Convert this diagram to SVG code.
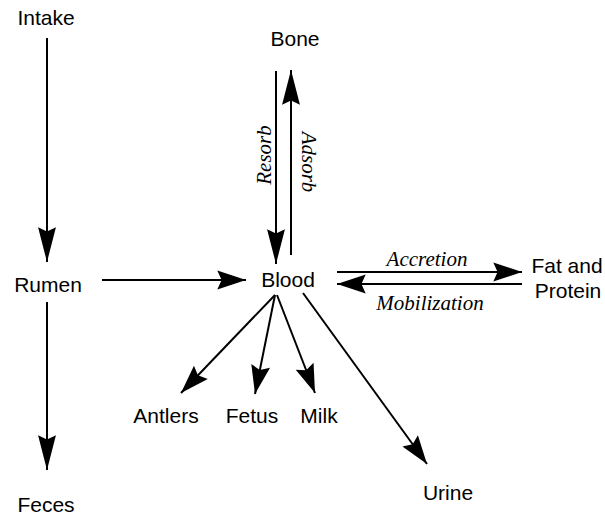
<svg xmlns="http://www.w3.org/2000/svg" width="605" height="517" viewBox="0 0 605 517">
<style>
.lbl{font-family:"Liberation Sans",Arial,sans-serif;font-size:21px;fill:#000;text-anchor:middle}
.it{font-family:"Liberation Serif","Times New Roman",serif;font-style:italic;font-size:21px;fill:#000;text-anchor:middle}
.ln{stroke:#000;stroke-width:2;fill:none}
</style>
<defs>
<marker id="aL" markerUnits="userSpaceOnUse" markerWidth="40" markerHeight="22" viewBox="-36 -10 38 20" refX="0" refY="0" orient="auto">
<path d="M0,0 L-33,-8.5 L-29,0 L-33,8.5 Z" fill="#000"/>
</marker>
<marker id="aM" markerUnits="userSpaceOnUse" markerWidth="34" markerHeight="22" viewBox="-30 -10 32 20" refX="0" refY="0" orient="auto">
<path d="M0,0 L-27,-9 L-23,0 L-27,9 Z" fill="#000"/>
</marker>
</defs>
<rect width="605" height="517" fill="#fff"/>
<g id="connectors">
<line class="ln" x1="47" y1="38" x2="47" y2="262" marker-end="url(#aL)"/>
<line class="ln" x1="102" y1="280" x2="246" y2="280" marker-end="url(#aM)"/>
<line class="ln" x1="47" y1="302" x2="47" y2="470" marker-end="url(#aL)"/>
<line class="ln" x1="276" y1="71" x2="276" y2="264" marker-end="url(#aL)"/>
<line class="ln" x1="291" y1="255" x2="291" y2="70" marker-end="url(#aL)"/>
<line class="ln" x1="337" y1="272" x2="522" y2="272" marker-end="url(#aM)"/>
<line class="ln" x1="522" y1="284" x2="337" y2="284" marker-end="url(#aM)"/>
<line class="ln" x1="275" y1="295" x2="181" y2="393" marker-end="url(#aM)"/>
<line class="ln" x1="275" y1="295" x2="255" y2="394" marker-end="url(#aM)"/>
<line class="ln" x1="277" y1="295" x2="315" y2="393" marker-end="url(#aM)"/>
<line class="ln" x1="303" y1="293" x2="427" y2="464" marker-end="url(#aM)"/>
<text class="it" transform="translate(271,155) rotate(-90)">Resorb</text>
<text class="it" transform="translate(302,162) rotate(90)">Adsorb</text>
<text class="it" x="427" y="266">Accretion</text>
<text class="it" x="430" y="310">Mobilization</text>
</g>
<g id="intake"><text class="lbl" x="46" y="25">Intake</text></g>
<g id="rumen"><text class="lbl" x="48" y="292">Rumen</text></g>
<g id="feces"><text class="lbl" x="46" y="512">Feces</text></g>
<g id="bone"><text class="lbl" x="295" y="46">Bone</text></g>
<g id="blood"><text class="lbl" x="288" y="287">Blood</text></g>
<g id="fat-protein"><text class="lbl" x="567" y="273">Fat and</text><text class="lbl" x="568" y="298">Protein</text></g>
<g id="antlers"><text class="lbl" x="166" y="423">Antlers</text></g>
<g id="fetus"><text class="lbl" x="252" y="423">Fetus</text></g>
<g id="milk"><text class="lbl" x="319" y="423">Milk</text></g>
<g id="urine"><text class="lbl" x="448" y="500">Urine</text></g>
</svg>
